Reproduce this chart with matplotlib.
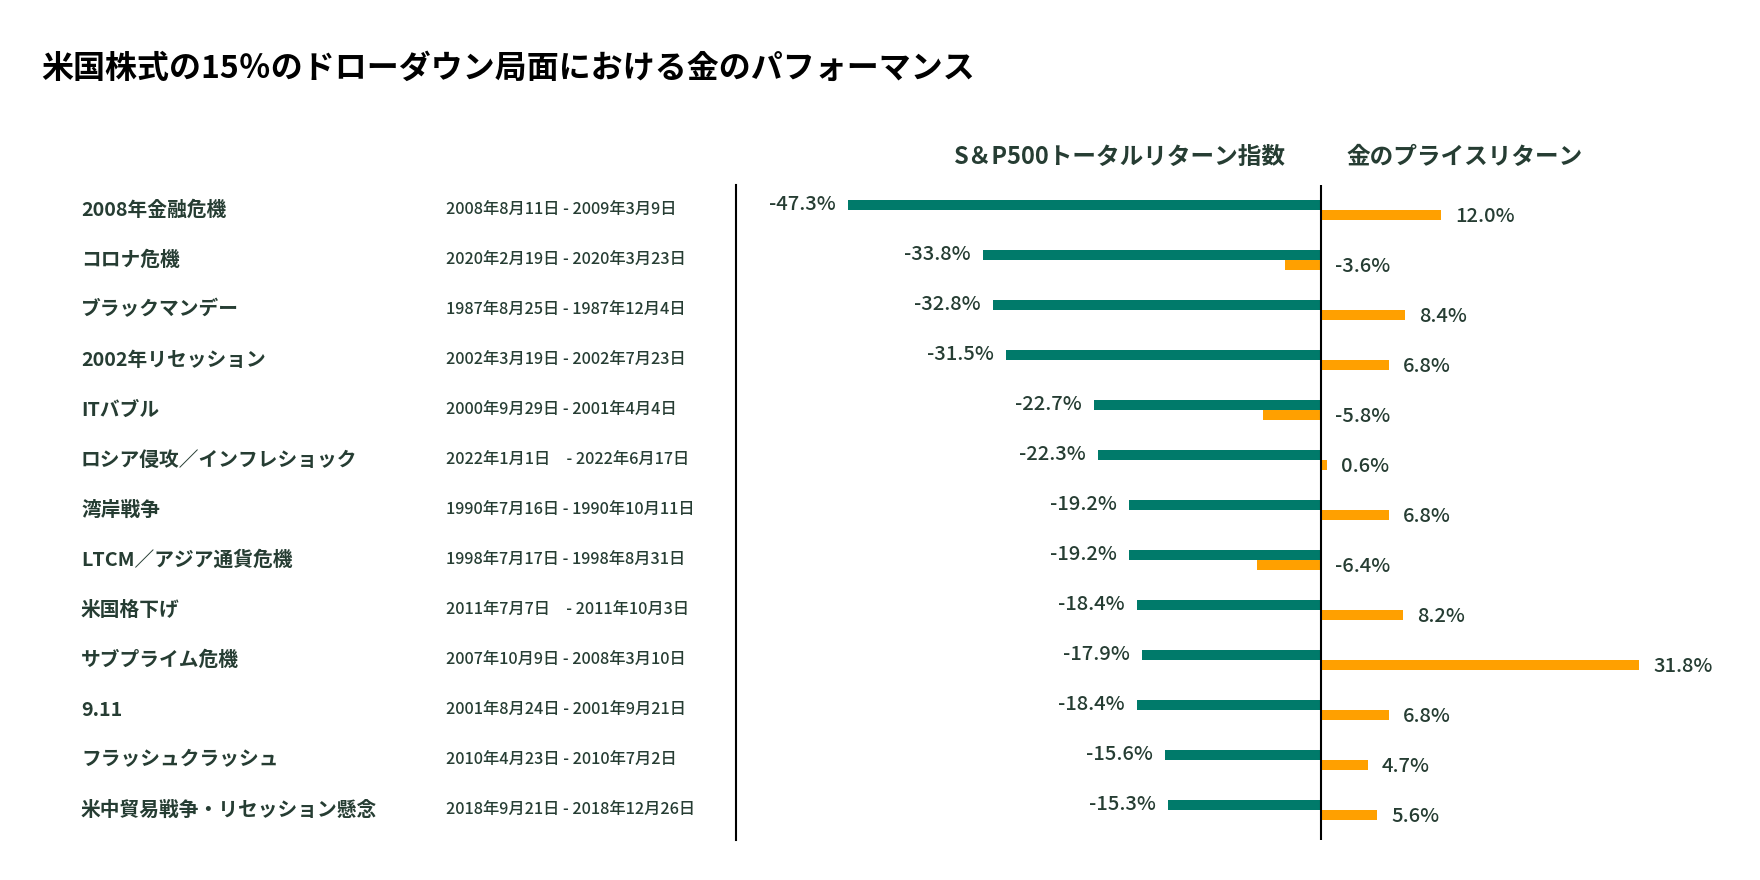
import matplotlib

matplotlib.use("Agg")
import matplotlib.pyplot as plt
import matplotlib.transforms as mtransforms

plt.rcParams["font.family"] = ["Noto Sans CJK JP", "DejaVu Sans"]

TITLE = "米国株式の15％のドローダウン局面における金のパフォーマンス"
HEADER_SP = "S＆P500トータルリターン指数"
HEADER_GOLD = "金のプライスリターン"

events = [
    "2008年金融危機",
    "コロナ危機",
    "ブラックマンデー",
    "2002年リセッション",
    "ITバブル",
    "ロシア侵攻／インフレショック",
    "湾岸戦争",
    "LTCM／アジア通貨危機",
    "米国格下げ",
    "サブプライム危機",
    "9.11",
    "フラッシュクラッシュ",
    "米中貿易戦争・リセッション懸念",
]
periods = [
    "2008年8月11日 - 2009年3月9日",
    "2020年2月19日 - 2020年3月23日",
    "1987年8月25日 - 1987年12月4日",
    "2002年3月19日 - 2002年7月23日",
    "2000年9月29日 - 2001年4月4日",
    "2022年1月1日　- 2022年6月17日",
    "1990年7月16日 - 1990年10月11日",
    "1998年7月17日 - 1998年8月31日",
    "2011年7月7日　- 2011年10月3日",
    "2007年10月9日 - 2008年3月10日",
    "2001年8月24日 - 2001年9月21日",
    "2010年4月23日 - 2010年7月2日",
    "2018年9月21日 - 2018年12月26日",
]
sp500_return = [-47.3, -33.8, -32.8, -31.5, -22.7, -22.3, -19.2, -19.2, -18.4, -17.9, -18.4, -15.6, -15.3]
gold_return = [12.0, -3.6, 8.4, 6.8, -5.8, 0.6, 6.8, -6.4, 8.2, 31.8, 6.8, 4.7, 5.6]

GREEN = "#007a6a"
GOLD = "#ffa000"
TEXT = "#263d33"
BAR_H = 0.2

fig = plt.figure(figsize=(17.6, 8.8), dpi=100)
ax = fig.add_axes([736 / 1760, 40 / 880, 1 - 736 / 1760, 655 / 880])

rows = list(range(len(events)))
ax.barh([r - BAR_H / 2 for r in rows], sp500_return, height=BAR_H, color=GREEN)
ax.barh([r + BAR_H / 2 for r in rows], gold_return, height=BAR_H, color=GOLD)

ax.set_xlim(-58.5, 43.9)
ax.set_ylim(len(events) - 0.4, -0.5)
ax.axvline(0, color="black", lw=1.5)
for side in ("top", "right", "bottom"):
    ax.spines[side].set_visible(False)
ax.spines["left"].set_linewidth(1.5)
ax.set_xticks([])
ax.set_yticks([])

# value labels: green to the left of its bar, gold always right of the zero line
for r, v in zip(rows, sp500_return):
    ax.text(min(v, 0) - 1.2, r - BAR_H / 2 - 0.02, f"{v:.1f}%", ha="right", va="center",
            fontsize=14.5, fontweight="medium", color=TEXT)
for r, v in zip(rows, gold_return):
    ax.text(max(v, 0) + 1.4, r + BAR_H / 2 + 0.02, f"{v:.1f}%", ha="left", va="center",
            fontsize=14.5, fontweight="medium", color=TEXT)

row_tf = mtransforms.blended_transform_factory(fig.transFigure, ax.transData)
for r, name, period in zip(rows, events, periods):
    ax.text(81 / 1760, r, name, transform=row_tf, ha="left", va="center",
            fontsize=14.2, fontweight="bold", color=TEXT)
    ax.text(446 / 1760, r, period, transform=row_tf, ha="left", va="center",
            fontsize=11.7, fontweight="medium", color=TEXT)

head_tf = mtransforms.blended_transform_factory(ax.transData, fig.transFigure)
ax.text(-3.5, 1 - 157 / 880, HEADER_SP, transform=head_tf, ha="right", va="center",
        fontsize=17, fontweight="bold", color=TEXT)
ax.text(2.5, 1 - 157 / 880, HEADER_GOLD, transform=head_tf, ha="left", va="center",
        fontsize=17, fontweight="bold", color=TEXT)

fig.text(41 / 1760, 1 - 69 / 880, TITLE, ha="left", va="center",
         fontsize=23, fontweight="bold", color="black")

fig.savefig("out.png", dpi=100)
plt.close(fig)
